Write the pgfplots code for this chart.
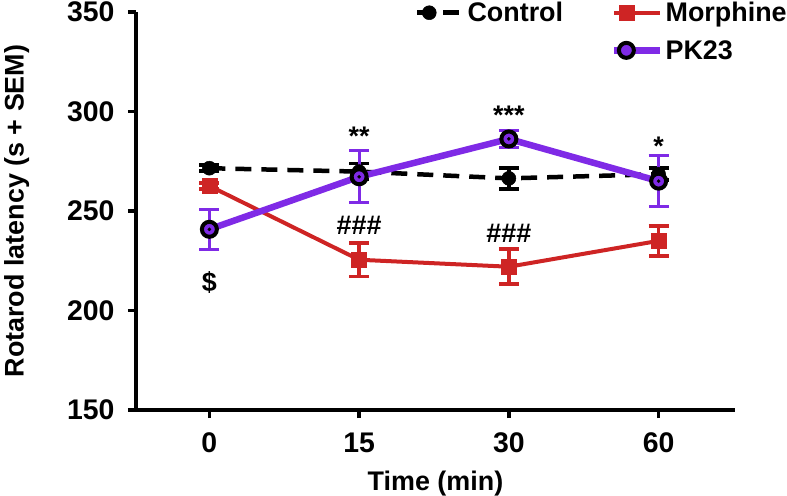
\documentclass[border=0pt]{standalone}
\usepackage{pgfplots}
\pgfplotsset{compat=1.18}
\usepackage{fontspec}
\setmainfont{Liberation Sans}
\definecolor{mred}{RGB}{206,36,36}
\definecolor{mpurple}{RGB}{127,42,230}
\newcommand{\bigf}{\fontsize{27pt}{31pt}\selectfont\bfseries}
\newcommand{\tickf}{\fontsize{28.5pt}{32pt}\selectfont\bfseries}
\begin{document}
\begin{tikzpicture}
\begin{axis}[
  name=ax,
  scale only axis,
  width=599bp, height=398bp,
  xmin=-0.49, xmax=3.51,
  ymin=150, ymax=350,
  xtick={0,1,2,3},
  xticklabels={0,15,30,60},
  ytick={150,200,250,300,350},
  axis x line*=bottom,
  axis y line*=left,
  axis line style={line width=3.5bp},
  tick align=outside,
  major tick length=8bp,
  tick style={line width=3.5bp, black},
  /pgf/number format/assume math mode=true,
  tick label style={font=\tickf},
  xticklabel style={yshift=-11bp},
  yticklabel style={xshift=-10bp},
  label style={font=\bigf},
  xlabel={Time (min)},
  ylabel={Rotarod latency (s + SEM)},
  xlabel style={yshift=-12bp},
  ylabel style={yshift=31bp},
  clip=false,
  legend columns=2,
  legend cell align=left,
  legend style={draw=none, fill=none, font=\bigf,
    at={(rel axis cs:0.4605,1.035)}, anchor=north west,
    /tikz/every even column/.append style={column sep=46bp},
    row sep=13bp},
  legend image code/.code={\path (0bp,0bp) -- (46bp,0bp);\draw[mark repeat=2,mark phase=2,#1] plot coordinates {(0bp,0bp) (12bp,0bp) (24bp,0bp)};},
]
% Control
\addplot[black, line width=4.5bp, dash pattern=on 16bp off 10bp,
  mark=*, mark size=7bp, mark options={solid, line width=0.5bp},
  error bars/.cd, y dir=both, y explicit,
  error bar style={line width=3.5bp, solid},
  error mark options={rotate=90, mark size=10bp, line width=3.5bp, solid}]
  coordinates {(0,271.5) +- (0,1.5) (1,269.8) +- (0,4) (2,266.4) +- (0,5.3) (3,268.5) +- (0,3)};
\addlegendentry{Control}
% Morphine
\addplot[mred, line width=4bp,
  mark=square*, mark size=7.5bp, mark options={solid, line width=0.5bp},
  error bars/.cd, y dir=both, y explicit,
  error bar style={line width=3.5bp, mred},
  error mark options={rotate=90, mark size=10bp, line width=3.5bp, mred}]
  coordinates {(0,262.6) +- (0,1.5) (1,225.5) +- (0,8.4) (2,222) +- (0,8.8) (3,235) +- (0,7.5)};
\addlegendentry{Morphine}
\addlegendimage{empty legend}
\addlegendentry{}
% PK23
\addplot[mpurple, line width=6.5bp,
  mark=*, mark size=7.5bp, mark options={solid, draw=black, fill=mpurple, line width=4bp},
  error bars/.cd, y dir=both, y explicit,
  error bar style={line width=3bp, mpurple},
  error mark options={rotate=90, mark size=10bp, line width=3bp, mpurple}]
  coordinates {(0,240.8) +- (0,10.2) (1,267.2) +- (0,13) (2,286.2) +- (0,4.4) (3,265) +- (0,12.9)};
\addlegendentry{PK23}
\addplot[only marks, mark=*, mark size=1.6bp, black, forget plot]
  coordinates {(0,240.8) (1,267.2) (2,286.2) (3,265)};
% annotations
\node[font=\bigf] at (axis cs:0,214) {\$};
\node[font=\bigf] at (axis cs:1,287.5) {**};
\node[font=\bigf] at (axis cs:2,298) {***};
\node[font=\bigf] at (axis cs:3,282.5) {*};
\node[font=\bigf] at (axis cs:1,243) {\#\#\#};
\node[font=\bigf] at (axis cs:2,239) {\#\#\#};
\end{axis}
\pgfresetboundingbox
\path[use as bounding box] ([xshift=-136bp,yshift=-86bp]ax.south west) rectangle ([xshift=52bp,yshift=12bp]ax.north east);
\end{tikzpicture}
\end{document}
